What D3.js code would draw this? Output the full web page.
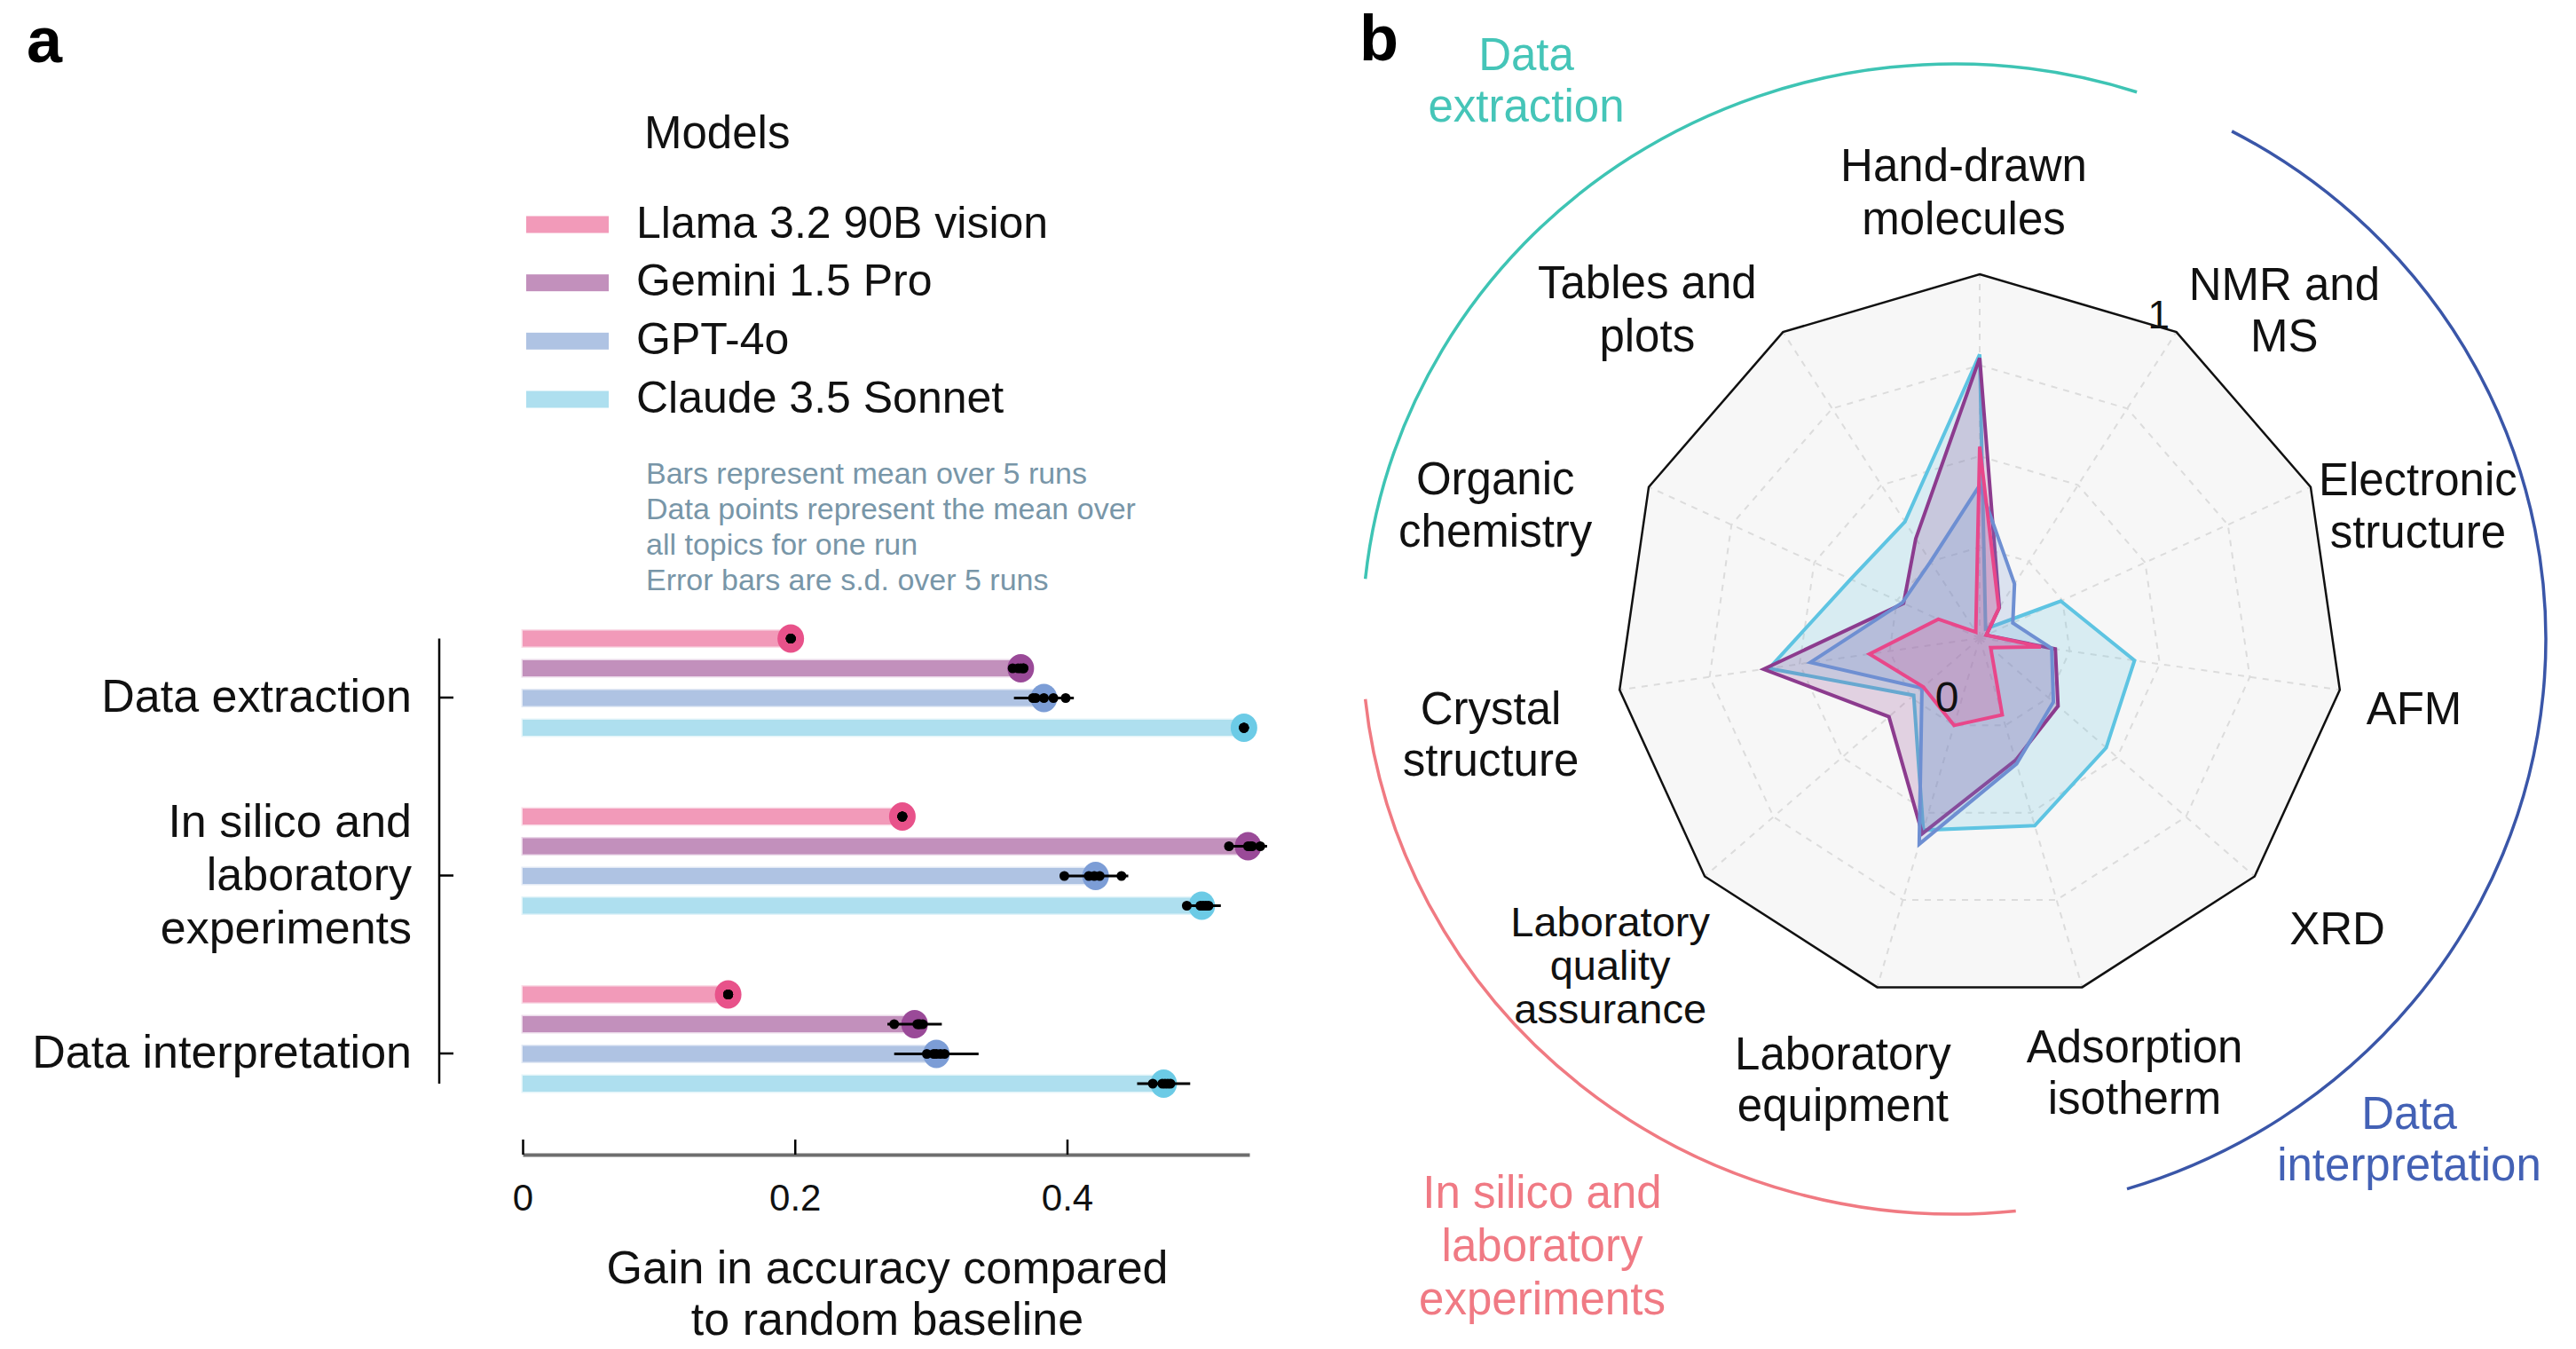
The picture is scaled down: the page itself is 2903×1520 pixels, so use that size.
<!DOCTYPE html>
<html>
<head>
<meta charset="utf-8">
<script src="https://cdn.jsdelivr.net/npm/d3@7"></script>
<style>
  html, body { margin: 0; padding: 0; background: #ffffff; }
  svg text { font-family: "Liberation Sans", Arial, "DejaVu Sans", sans-serif; }
</style>
</head>
<body>
<svg id="chart" width="2903" height="1520"></svg>
<script>
// ---------------- DATA ----------------
const models = ["Llama 3.2 90B vision", "Gemini 1.5 Pro", "GPT-4o", "Claude 3.5 Sonnet"];
const categories = ["Data extraction", "In silico and laboratory experiments", "Data interpretation"];
const categoryLines = [["Data extraction"], ["In silico and", "laboratory", "experiments"], ["Data interpretation"]];

// mean gain over 5 runs, per category
const llamaMean  = [0.197, 0.279, 0.151];
const geminiMean = [0.366, 0.533, 0.288];
const gptMean    = [0.383, 0.421, 0.304];
const claudeMean = [0.530, 0.499, 0.471];

// s.d. over 5 runs
const llamaSD  = [0.000, 0.000, 0.000];
const geminiSD = [0.003, 0.014, 0.020];
const gptSD    = [0.022, 0.024, 0.031];
const claudeSD = [0.002, 0.014, 0.0195];

// per-run means (5 runs)
const llamaRuns  = [[0.197, 0.197, 0.197, 0.197, 0.197], [0.279, 0.279, 0.279, 0.279, 0.279], [0.151, 0.151, 0.151, 0.151, 0.151]];
const geminiRuns = [[0.360, 0.364, 0.366, 0.368, 0.368], [0.519, 0.533, 0.535, 0.536, 0.542], [0.273, 0.290, 0.291, 0.292, 0.294]];
const gptRuns    = [[0.375, 0.377, 0.383, 0.390, 0.399], [0.398, 0.416, 0.420, 0.424, 0.440], [0.297, 0.302, 0.304, 0.307, 0.310]];
const claudeRuns = [[0.530, 0.530, 0.530, 0.530, 0.530], [0.488, 0.498, 0.500, 0.502, 0.504], [0.463, 0.470, 0.472, 0.474, 0.476]];

const xTicks = [0, 0.2, 0.4];

const notes = ["Bars represent mean over 5 runs", "Data points represent the mean over", "all topics for one run", "Error bars are s.d. over 5 runs"];

// radar
const topics = ["Hand-drawn molecules", "NMR and MS", "Electronic structure", "AFM", "XRD", "Adsorption isotherm",
                "Laboratory equipment", "Laboratory quality assurance", "Crystal structure", "Organic chemistry", "Tables and plots"];
const topicLines = [["Hand-drawn", "molecules"], ["NMR and", "MS"], ["Electronic", "structure"], ["AFM"], ["XRD"], ["Adsorption", "isotherm"],
                    ["Laboratory", "equipment"], ["Laboratory", "quality", "assurance"], ["Crystal", "structure"], ["Organic", "chemistry"], ["Tables and", "plots"]];
const llamaTopic  = [0.526, 0.097, 0.02, 0.17, 0.04, 0.22, 0.25, 0.205, 0.306, 0.125, 0.02];
const geminiTopic = [0.770, 0.100, 0.02, 0.21, 0.285, 0.35, 0.56, 0.33, 0.600, 0.230, 0.325];
const gptTopic    = [0.420, 0.177, 0.10, 0.20, 0.268, 0.36, 0.59, 0.21, 0.470, 0.234, 0.250];
const claudeTopic = [0.780, 0.030, 0.245, 0.43, 0.46, 0.537, 0.55, 0.24, 0.585, 0.390, 0.380];
const ringLevels = [0.25, 0.5, 0.75];

const groups = ["Data extraction", "Data interpretation", "In silico and laboratory experiments"];
const groupLines = [["Data", "extraction"], ["Data", "interpretation"], ["In silico and", "laboratory", "experiments"]];

// ---------------- STYLE / LAYOUT ----------------
const barColors    = ["#F29AB9", "#C290BC", "#AFC3E3", "#AEDFEF"];
const dotColors    = ["#E8528A", "#9A4A98", "#7C9DD6", "#6CCBE6"];
const radarStroke  = ["#E8478A", "#8C3B8E", "#6E8FD2", "#5EC4E2"];
const groupColors  = ["#3EC4B4", "#3A56A8", "#F07A82"];
const groupText    = ["#45C5B8", "#4361B5", "#F07A84"];

const means = [llamaMean, geminiMean, gptMean, claudeMean];
const sds = [llamaSD, geminiSD, gptSD, claudeSD];
const runs = [llamaRuns, geminiRuns, gptRuns, claudeRuns];
const topicVals = [llamaTopic, geminiTopic, gptTopic, claudeTopic];

const svg = d3.select("#chart");
const FS = 51;

function multiText(g, lines, x, y, lh, anchor, color, size) {
  const n = lines.length;
  const t = g.append("text").attr("text-anchor", anchor).attr("fill", color).attr("font-size", size);
  lines.forEach((ln, i) => {
    t.append("tspan").attr("x", x).attr("y", y + (i - (n - 1) / 2) * lh).attr("dy", "0.35em").text(ln);
  });
  return t;
}

// panel letters
svg.append("text").attr("x", 30).attr("y", 70).attr("font-size", 72).attr("font-weight", "bold").text("a");
svg.append("text").attr("x", 1532).attr("y", 68).attr("font-size", 72).attr("font-weight", "bold").text("b");

// ---------------- PANEL A ----------------
const pa = svg.append("g");
const x = d3.scaleLinear().domain([0, 0.534]).range([589, 1408]);
const yCat = d3.scalePoint().domain(categories).range([786, 1187]);
const yOff = d3.scalePoint().domain(models).range([-66.5, 34]);
const yLeg = d3.scalePoint().domain(models).range([253, 450]);

// legend
pa.append("text").attr("x", 726).attr("y", 149).attr("dy", "0.35em").attr("font-size", FS).attr("fill", "#111").text("Models");
models.forEach((m, i) => {
  pa.append("rect").attr("x", 593).attr("y", yLeg(m) - 9.5).attr("width", 93).attr("height", 19).attr("fill", barColors[i]);
  pa.append("text").attr("x", 717).attr("y", yLeg(m) - 3).attr("dy", "0.35em").attr("font-size", 50).attr("fill", "#111").text(m);
});
const yNote = d3.scalePoint().domain(d3.range(notes.length)).range([533, 653]);
notes.forEach((n, i) => {
  pa.append("text").attr("x", 728).attr("y", yNote(i)).attr("dy", "0.35em").attr("font-size", 34).attr("fill", "#7896A8").text(n);
});

// bars
categories.forEach((c, ci) => {
  models.forEach((m, mi) => {
    const yc = yCat(c) + yOff(m);
    const mu = means[mi][ci], sd = sds[mi][ci];
    pa.append("rect").attr("x", x(0)).attr("y", yc - 9).attr("width", x(mu) - x(0)).attr("height", 18)
      .attr("fill", barColors[mi]).attr("stroke", barColors[mi]).attr("stroke-opacity", 0.35).attr("stroke-width", 3);
    pa.append("ellipse").attr("cx", x(mu)).attr("cy", yc).attr("rx", 15).attr("ry", 16).attr("fill", dotColors[mi]);
    if (sd > 0.004) {
      pa.append("line").attr("x1", x(mu - sd)).attr("x2", x(mu + sd)).attr("y1", yc).attr("y2", yc)
        .attr("stroke", "#000").attr("stroke-width", 3);
    }
    runs[mi][ci].forEach(v => {
      pa.append("circle").attr("cx", x(v)).attr("cy", yc).attr("r", 5.5).attr("fill", "#000");
    });
  });
});

// y axis
const yTop = yCat(categories[0]) + yOff(models[0]);
const yBot = yCat(categories[2]) + yOff(models[3]);
pa.append("line").attr("x1", 495).attr("x2", 495).attr("y1", yTop).attr("y2", yBot).attr("stroke", "#000").attr("stroke-width", 2.5);
categories.forEach((c, ci) => {
  pa.append("line").attr("x1", 495).attr("x2", 511).attr("y1", yCat(c)).attr("y2", yCat(c)).attr("stroke", "#000").attr("stroke-width", 2.5);
  multiText(pa, categoryLines[ci], 464, yCat(c) - 2, 60, "end", "#111", 52);
});

// x axis
const xAxis = d3.axisBottom(x).tickValues(xTicks).tickFormat(d => d === 0 ? "0" : d3.format(".1f")(d))
  .tickSize(-17).tickSizeOuter(0).tickPadding(33);
const gx = pa.append("g").attr("transform", "translate(0,1301)").call(xAxis);
gx.select(".domain").attr("stroke", "#6E6E6E").attr("stroke-width", 4);
gx.selectAll(".tick line").attr("stroke", "#000").attr("stroke-width", 2.5);
gx.selectAll(".tick text").attr("font-size", 42).attr("fill", "#111").attr("font-family", "Liberation Sans, Arial, sans-serif");
multiText(pa, ["Gain in accuracy compared", "to random baseline"], 1000, 1457, 58, "middle", "#111", 52);

// ---------------- PANEL B ----------------
const cx = 2231, cy = 719, R = 410;
const pb = svg.append("g").attr("transform", `translate(${cx},${cy})`);
const rScale = d3.scaleLinear().domain([0, 1]).range([0, R]);
const ang = d3.scalePoint().domain(d3.range(topics.length + 1)).range([0, 2 * Math.PI]);
const radial = d3.lineRadial().angle((d, i) => ang(i)).radius(d => rScale(d)).curve(d3.curveLinearClosed);
const pt = (i, v) => [Math.sin(ang(i)) * rScale(v), -Math.cos(ang(i)) * rScale(v)];

// background polygon
pb.append("path").attr("d", radial(topics.map(() => 1))).attr("fill", "#F7F7F7").attr("stroke", "none");
// rings
ringLevels.forEach(l => {
  pb.append("path").attr("d", radial(topics.map(() => l))).attr("fill", "none")
    .attr("stroke", "#DCDCDC").attr("stroke-width", 2).attr("stroke-dasharray", "7,7");
});
// spokes
topics.forEach((t, i) => {
  const [px, py] = pt(i, 1);
  pb.append("line").attr("x1", 0).attr("y1", 0).attr("x2", px).attr("y2", py)
    .attr("stroke", "#DCDCDC").attr("stroke-width", 2).attr("stroke-dasharray", "7,7");
});
// outer frame
pb.append("path").attr("d", radial(topics.map(() => 1))).attr("fill", "none").attr("stroke", "#111").attr("stroke-width", 2.5);

// data polygons (drawn Claude, Gemini, GPT, Llama)
[3, 1, 2, 0].forEach(mi => {
  pb.append("path").attr("d", radial(topicVals[mi])).attr("fill", radarStroke[mi]).attr("fill-opacity", 0.2)
    .attr("stroke", radarStroke[mi]).attr("stroke-width", 4).attr("stroke-linejoin", "miter");
});

// radial labels
pb.append("text").attr("x", -37).attr("y", 66).attr("dy", "0.35em").attr("text-anchor", "middle").attr("font-size", 48).attr("fill", "#111").text("0");
{
  const [px, py] = pt(1, 1);
  pb.append("text").attr("x", px - 20).attr("y", py - 20).attr("dy", "0.35em").attr("text-anchor", "middle").attr("font-size", 44).attr("fill", "#111").text("1");
}

// topic labels: layout as (angle in degrees, radius, line height, font size)
const labelShiftX = -11;
const topicLabelPolar = [[-0.8, 501, 60, FS], [43.9, 511, 58, FS], [73.7, 526, 59, FS], [99.2, 507, 59, FS], [128.5, 529, 59, FS], [159.3, 525, 58, FS],
                         [196.0, 519, 58, FS], [227.6, 549, 49, 47], [258.5, 551, 58, FS], [285.5, 555, 59, FS], [315.4, 518, 60, FS]];
topics.forEach((t, i) => {
  const [a, rr, lh, fs] = topicLabelPolar[i];
  const rad = a * Math.PI / 180;
  multiText(pb, topicLines[i], Math.sin(rad) * rr + labelShiftX, -Math.cos(rad) * rr - 2, lh, "middle", "#111", fs);
});

// group arcs (slightly elliptical)
const acx = 2202 - cx, acy = 720 - cy, arx = 667, ary = 648;
const arcG = pb.append("g").attr("transform", `translate(${acx},${acy}) scale(1,${ary / arx})`);
const arcSpans = [[-84, 18], [28, 163], [174, 264]];
arcSpans.forEach((s, gi) => {
  const p = d3.path();
  const a0 = (s[0] - 90) * Math.PI / 180, a1 = (s[1] - 90) * Math.PI / 180;
  p.moveTo(Math.cos(a0) * arx, Math.sin(a0) * arx);
  p.arc(0, 0, arx, a0, a1, false);
  arcG.append("path").attr("d", p.toString()).attr("fill", "none").attr("stroke", groupColors[gi])
    .attr("stroke-width", 3.5).attr("vector-effect", "non-scaling-stroke");
});
// group labels
const groupLabelPos = [[1731 - cx, 90 - cy, 58], [2726 - cx, 1283 - cy, 58], [1749 - cx, 1403 - cy, 60]];
groups.forEach((g, gi) => {
  const [gx0, gy0, lh] = groupLabelPos[gi];
  multiText(pb, groupLines[gi], gx0 + labelShiftX, gy0, lh, "middle", groupText[gi], FS);
});
</script>
</body>
</html>
